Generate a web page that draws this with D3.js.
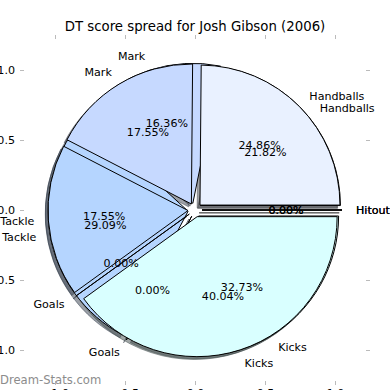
<!DOCTYPE html>
<html><head><meta charset="utf-8">
<script src="https://cdnjs.cloudflare.com/ajax/libs/d3/7.8.5/d3.min.js"></script>
<style>body{margin:0;background:#fff} svg{display:block} text{font-family:"DejaVu Sans",sans-serif}</style>
</head><body><svg id="c" width="390" height="390"></svg>
<script>
// ---- data ----
const categories = ["Hitout", "Handballs", "Mark", "Tackle", "Goals", "Kicks"];
const seriesA = [0, 24.86, 17.55, 17.55, 0, 40.04];   // upper pie
const seriesB = [0, 21.82, 16.36, 29.09, 0, 32.73];   // lower pie
const tickValues = [-1.0, -0.5, 0.0, 0.5, 1.0];
const titleText = "DT score spread for Josh Gibson (2006)";
const watermark = "Dream-Stats.com";
const sliceColors = ["#ffffff", "#e9f1ff", "#c6d9ff", "#b5d5ff", "#c0dcff", "#d9ffff"];

// ---- layout ----
const svg = d3.select("#c");
const x = d3.scaleLinear().domain([-1.25, 1.25]).range([20, 370]);
const y = d3.scaleLinear().domain([-1.25, 1.25]).range([385, 35]);
const R = x(1) - x(0), cx = x(0), cy = y(0);
const explode = 0.05, e = x(explode) - x(0);
const shX = x(-0.02) - x(0), shY = y(-0.02) - y(0);
const FS = 11.1;

const pie = d3.pie().sort(null).value(d => d)
  .startAngle(Math.PI / 2).endAngle(Math.PI / 2 - 2 * Math.PI);
const arc = d3.arc().innerRadius(0).outerRadius(R);

function prep(vals) {
  return pie(vals).map((a, i) => {
    const mid = (a.startAngle + a.endAngle) / 2;
    return Object.assign(a, {
      cat: categories[i], color: sliceColors[i], mid,
      dx: e * Math.sin(mid), dy: -e * Math.cos(mid)
    });
  });
}
const A = prep(seriesA), B = prep(seriesB);

// axes ticks (inward, light gray, no spines)
const fmt = d3.format(".1f");
function styleAxis(g, showLabels) {
  g.select(".domain").remove();
  g.selectAll(".tick line").attr("stroke", "#bbbbbb");
  g.selectAll(".tick text").attr("fill", showLabels ? "#000" : "none")
    .style("font-size", FS + "px").style("font-family", '"DejaVu Sans",sans-serif');
}
svg.append("g").attr("transform", `translate(${x(-1.25)},0)`)
  .call(d3.axisLeft(y).tickValues(tickValues).tickFormat(fmt).tickSize(-4).tickPadding(5))
  .call(g => styleAxis(g, true));
svg.append("g").attr("transform", `translate(0,${y(-1.25)})`)
  .call(d3.axisBottom(x).tickValues(tickValues).tickFormat(fmt).tickSize(-4).tickPadding(4))
  .call(g => styleAxis(g, true));
svg.append("g").attr("transform", `translate(0,${y(1.25)})`)
  .call(d3.axisTop(x).tickValues(tickValues).tickFormat(fmt).tickSize(-4))
  .call(g => styleAxis(g, false));
svg.append("g").attr("transform", `translate(${x(1.25)},0)`)
  .call(d3.axisRight(y).tickValues(tickValues).tickFormat(fmt).tickSize(-4))
  .call(g => styleAxis(g, false));

// shadows
function dark(c) { const r = d3.rgb(c); return d3.rgb(r.r * 0.3, r.g * 0.3, r.b * 0.3).toString(); }
const shadowG = svg.append("g");
[B, A].forEach(S => {
  shadowG.selectAll(null).data(S).enter().append("path")
    .attr("d", arc)
    .attr("transform", d => `translate(${cx + d.dx + shX},${cy + d.dy + shY})`)
    .attr("fill", d => dark(d.color)).attr("stroke", d => dark(d.color))
    .attr("fill-opacity", 0.5).attr("stroke-opacity", 0.5).attr("stroke-width", 1);
});
// wedges
[B, A].forEach(S => {
  svg.append("g").selectAll("path").data(S).enter().append("path")
    .attr("d", arc)
    .attr("transform", d => `translate(${cx + d.dx},${cy + d.dy})`)
    .attr("fill", d => d.color).attr("stroke", "#000").attr("stroke-width", 1)
    .attr("stroke-linejoin", "round");
});
// texts
[B, A].forEach(S => {
  const g = svg.append("g").style("font-size", FS + "px");
  g.selectAll("text.lab").data(S).enter().append("text").attr("class", "lab")
    .attr("x", d => cx + Math.sin(d.mid) * (e + 1.1 * R))
    .attr("y", d => cy - Math.cos(d.mid) * (e + 1.1 * R))
    .attr("text-anchor", d => Math.sin(d.mid) > 1e-9 ? "start" : "end")
    .attr("dominant-baseline", "central")
    .text(d => d.cat);
  g.selectAll("text.pct").data(S).enter().append("text").attr("class", "pct")
    .attr("x", d => cx + Math.sin(d.mid) * (e + 0.6 * R))
    .attr("y", d => cy - Math.cos(d.mid) * (e + 0.6 * R))
    .attr("text-anchor", "middle").attr("dominant-baseline", "central")
    .text(d => d.value.toFixed(2) + "%");
});

// title and watermark
svg.append("text").attr("x", cx).attr("y", 30.5).attr("text-anchor", "middle")
  .style("font-size", "13.3px").text(titleText);
svg.append("text").attr("x", 0).attr("y", 384).style("font-size", "11.6px")
  .attr("fill", "#8c8c8c").text(watermark);
</script></body></html>
